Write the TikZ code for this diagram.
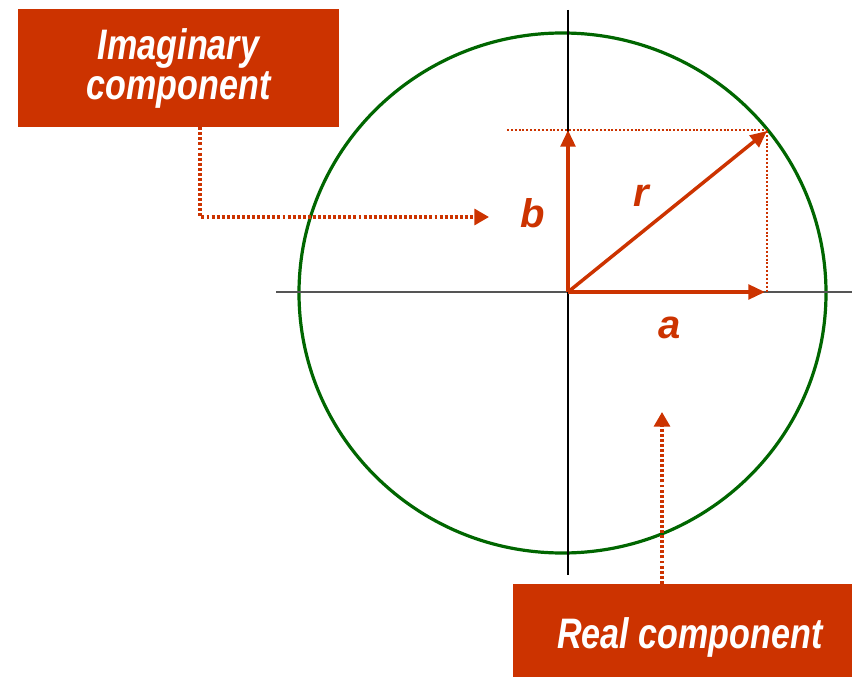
\documentclass[tikz,border=0pt]{standalone}
\usepackage{fontspec}
\usepackage{tikz}
\usetikzlibrary{arrows.meta,positioning,calc}
\newfontfamily\boxfont[FakeStretch=0.8]{Liberation Sans}
\newfontfamily\labfont{Liberation Sans}
\definecolor{phred}{HTML}{CC3300}
\definecolor{phgreen}{HTML}{006600}
\definecolor{phgrey}{HTML}{555555}

\begin{document}
\begin{tikzpicture}[x=0.75pt,y=-0.75pt,
  compbox/.style={fill=phred,text=white,align=center,inner sep=0pt,
    font=\boxfont\bfseries\itshape\fontsize{32}{34}\selectfont},
  vec/.style={draw=phred,line width=2.6pt,-{Triangle[length=12.5pt,width=11pt]}},
  guide/.style={draw=phred,line width=1.5pt,dash pattern=on 1.5pt off 1.4pt},
  conn/.style={draw=phred,line width=2.4pt,dash pattern=on 2.2pt off 1.6pt,
    -{Triangle[length=11pt,width=12pt]}},
  lab/.style={text=phred,font=\labfont\bfseries\itshape\fontsize{30}{32}\selectfont}]
\useasboundingbox (0,0) rectangle (852,677);
\draw[phgreen,line width=2.4pt] (562.5,293) ellipse [x radius=263.5,y radius=260];
\draw[phgrey,line width=1.2pt] (276,292) -- (852,292);
\draw[black,line width=0.8pt] (568,10) -- (568,575);
\coordinate (O) at (568,292);
\coordinate (A) at (765,292);
\coordinate (B) at (568,130);
\coordinate (P) at (767,131);
\draw[guide] (507,130) -- (P |- B);
\draw[guide] (P) -- (P |- O);
\draw[vec] (O) -- (A);
\draw[vec] (O) -- (B);
\draw[vec] (O) -- (P);
\node[lab] (blab) at (533,213) {b};
\node[lab] (rlab) at (641,196) {r};
\node[lab] (alab) at (670,328) {a};
\node[compbox,minimum width=240.75pt,minimum height=88.5pt] (imag) at (178.5,68)
  {Imaginary\\[-4pt]component};
\node[compbox,minimum width=254.25pt,minimum height=69.75pt] (real) at (682.5,630.5)
  {\hspace*{11pt}\raisebox{-5pt}[\height][\depth]{Real component}};
\coordinate (ibend) at (200,217);
\coordinate (itip) at (489,217);
\coordinate (rtip) at (662,412);
\draw[conn] (imag.south -| ibend) |- (itip);
\draw[conn] (real.north -| rtip) -- (rtip);
\end{tikzpicture}
\end{document}
